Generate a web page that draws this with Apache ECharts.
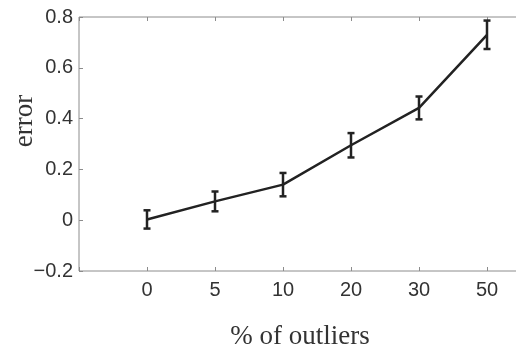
<!DOCTYPE html>
<html>
<head>
<meta charset="utf-8">
<script src="https://cdn.jsdelivr.net/npm/echarts@6/dist/echarts.min.js"></script>
<style>
  html, body { margin: 0; padding: 0; background: #fff; }
  #chart { width: 516px; height: 352px; }
</style>
</head>
<body>
<div id="chart"></div>
<script>
// % of outliers (equally spaced on the axis)
var categories = ['0', '5', '10', '20', '30', '50'];
// mean error and error bar half-length
var errorMean = [0.003, 0.074, 0.14, 0.295, 0.442, 0.73];
var errorBar = [0.036, 0.039, 0.046, 0.048, 0.045, 0.056];

var axisColor = '#8c8c8c';
var lineColor = '#222';

var meanData = categories.map(function (c, i) { return [i + 1, errorMean[i]]; });
var barData = categories.map(function (c, i) {
    return [i + 1, errorMean[i] - errorBar[i], errorMean[i] + errorBar[i]];
});

function renderErrorBar(params, api) {
    var x = api.value(0);
    var lo = api.coord([x, api.value(1)]);
    var hi = api.coord([x, api.value(2)]);
    var half = 3.5;
    var style = { stroke: lineColor, lineWidth: 2.5 };
    return {
        type: 'group',
        children: [
            { type: 'line', shape: { x1: lo[0], y1: lo[1], x2: hi[0], y2: hi[1] }, style: style },
            { type: 'line', shape: { x1: lo[0] - half, y1: lo[1], x2: lo[0] + half, y2: lo[1] }, style: style },
            { type: 'line', shape: { x1: hi[0] - half, y1: hi[1], x2: hi[0] + half, y2: hi[1] }, style: style }
        ]
    };
}

var xBase = {
    type: 'value',
    min: 0,
    max: 6.5,
    interval: 1,
    splitLine: { show: false },
    axisLine: { show: false, onZero: false },
    axisTick: { show: true, inside: true, length: 4, lineStyle: { color: axisColor } }
};
var yBase = {
    type: 'value',
    min: -0.2,
    max: 0.8,
    interval: 0.2,
    splitLine: { show: false },
    axisLine: { show: false, onZero: false },
    axisTick: { show: true, inside: true, length: 4, lineStyle: { color: axisColor } }
};

var option = {
    backgroundColor: '#fff',
    animation: false,
    grid: {
        left: 79, right: -5, top: 17, bottom: 81,
        containLabel: false, outerBoundsMode: 'none',
        show: true, borderColor: axisColor, borderWidth: 1, backgroundColor: 'transparent'
    },
    xAxis: [
        Object.assign({}, xBase, {
            position: 'bottom',
            name: '% of outliers',
            nameLocation: 'middle',
            nameGap: 52,
            nameMoveOverlap: false,
            nameTextStyle: { fontFamily: 'Liberation Serif', fontSize: 27, color: '#333' },
            axisLabel: {
                margin: 9,
                fontFamily: 'Liberation Sans',
                fontSize: 20,
                color: '#333',
                formatter: function (v) {
                    var i = Math.round(v) - 1;
                    return (Math.abs(v - Math.round(v)) < 1e-6 && categories[i] !== undefined) ? categories[i] : '';
                }
            }
        }),
        Object.assign({}, xBase, {
            position: 'top',
            axisLabel: { show: false }
        })
    ],
    yAxis: [
        Object.assign({}, yBase, {
            position: 'left',
            name: 'error',
            nameLocation: 'middle',
            nameRotate: 90,
            nameGap: 41,
            nameMoveOverlap: false,
            nameTextStyle: { fontFamily: 'Liberation Serif', fontSize: 27, color: '#333', padding: [0, 0, 0, 46] },
            axisLabel: {
                margin: 6,
                fontFamily: 'Liberation Sans',
                fontSize: 20,
                color: '#333',
                formatter: function (v) {
                    var s = String(Math.round(v * 10) / 10);
                    return s.replace('-', '\u2212');
                }
            }
        }),
        Object.assign({}, yBase, {
            position: 'right',
            axisLabel: { show: false }
        })
    ],
    series: [
        {
            type: 'line',
            data: meanData,
            symbol: 'none',
            lineStyle: { color: lineColor, width: 2.5 },
            z: 3
        },
        {
            type: 'custom',
            data: barData,
            renderItem: renderErrorBar,
            z: 4
        }
    ]
};

var chart = echarts.init(document.getElementById('chart'));
chart.setOption(option);
</script>
</body>
</html>
